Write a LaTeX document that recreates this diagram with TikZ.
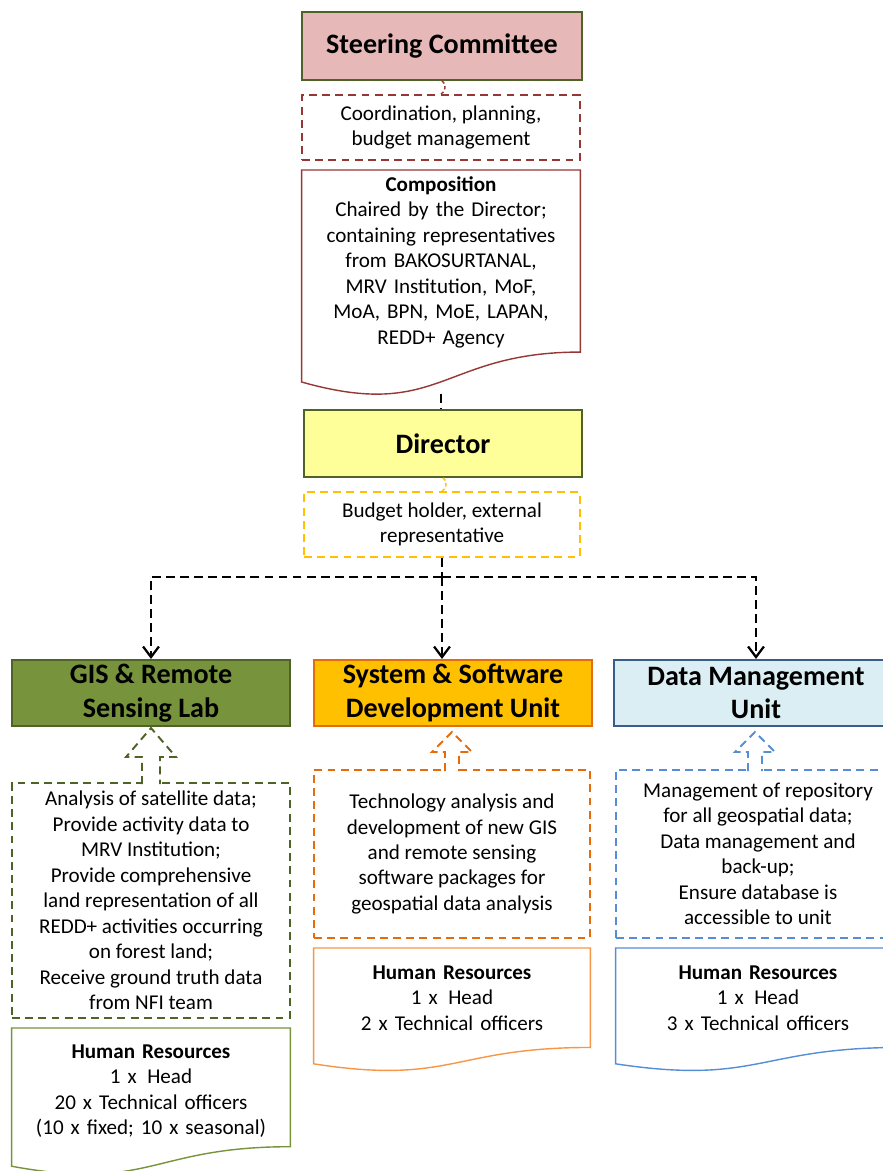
\documentclass[tikz,border=0pt]{standalone}
\usepackage{fontspec}
\setmainfont{Carlito}
\usetikzlibrary{arrows.meta,calc}

\definecolor{scpink}{HTML}{E6B8B7}
\definecolor{boxolive}{HTML}{4F6228}
\definecolor{gisgreen}{HTML}{77933C}
\definecolor{diryellow}{HTML}{FFFF99}
\definecolor{redbrown}{HTML}{953735}
\definecolor{gold}{HTML}{FFC000}
\definecolor{deeporange}{HTML}{E46C0A}
\definecolor{lightorange}{HTML}{F79646}
\definecolor{paleblue}{HTML}{DBEEF4}
\definecolor{navy}{HTML}{385D8A}
\definecolor{midblue}{HTML}{558ED5}

% wavy-bottomed document outline hung from text node #1 (colour #2, height #3 px)
\newcommand{\docoutline}[3]{%
  \draw[#2, line width=0.8pt] (#1.north west) -- (#1.north east)
    -- ($(#1.north east)+(0,0.802*#3)$)
    .. controls ($(#1.north)+(0,0.802*#3)$) and ($(#1.north)+(0,1.1075*#3)$)
    .. ($(#1.north west)+(0,0.934*#3)$) -- cycle;}

% dashed open block arrow pointing up: x, tip, neck, foot, head half, shaft half, colour
\newcommand{\blockup}[7]{%
  \fill[white] (#1-#6,#4) -- (#1-#6,#3) -- (#1-#5,#3) -- (#1,#2)
    -- (#1+#5,#3) -- (#1+#6,#3) -- (#1+#6,#4) -- cycle;
  \draw[#7, roledash] (#1-#6,#4) -- (#1-#6,#3) -- (#1-#5,#3) -- (#1,#2)
    -- (#1+#5,#3) -- (#1+#6,#3) -- (#1+#6,#4);}

\begin{document}
\begin{tikzpicture}[x=0.02cm, y=-0.02cm,
    head/.style={draw=boxolive, line width=0.9pt, align=center, inner sep=2pt,
      minimum height=1.33cm, font=\fontsize{16}{19.3}\selectfont\bfseries},
    roledash/.style={dash pattern=on 4.5pt off 3pt, line width=1.1pt},
    role/.style={roledash, align=center, inner sep=2pt,
      font=\fontsize{12}{14.5}\selectfont},
    doc/.style={anchor=north, align=center, inner xsep=0pt,
      font=\fontsize{12}{14.5}\selectfont},
    link/.style={line width=1.4pt, dash pattern=on 5pt off 3pt},
    tip/.style={-{Straight Barb[length=6pt,width=9pt,line width=1.3pt]}}]
  \useasboundingbox (0,0) rectangle (883,1171);
  \clip (0,0) rectangle (883,1171);

  % top of the structure
  \node[head, fill=scpink, minimum width=5.6cm, minimum height=1.36cm] (sc) at (442,46) {Steering Committee};
  \node[role, draw=redbrown, minimum width=5.56cm, minimum height=1.3cm] (coord) at (441,127.5)
    {Coordination, planning,\\budget management};
  \node[doc, text width=5.56cm, inner ysep=3.6pt] (comp) at (441,170)
    {\textbf{Composition}\\Chaired by the Director;\\containing representatives\\from  BAKOSURTANAL,\\MRV Institution,  MoF,\\MoA, BPN, MoE, LAPAN,\\REDD+ Agency};
  \docoutline{comp}{redbrown}{227}

  \node[head, fill=diryellow, minimum width=5.56cm, minimum height=1.34cm] (dir) at (443,443.5) {Director};
  \node[role, draw=gold, minimum width=5.52cm, minimum height=1.3cm] (budget) at (442,524.5)
    {Budget holder, external\\representative};

  % the three units
  \node[head, fill=gisgreen, minimum width=5.56cm] (gis) at (151,693) {GIS \& Remote\\Sensing Lab};
  \node[head, fill=gold, draw=deeporange, minimum width=5.56cm] (sys) at (453,693) {System \& Software\\Development Unit};
  \node[head, fill=paleblue, draw=navy, minimum width=5.68cm] (data) at (756,693) {Data Management\\Unit};

  \node[role, draw=boxolive, minimum width=5.56cm, minimum height=4.7cm] (gisrole) at (151,900.5)
    {Analysis of satellite  data;\\Provide activity data to\\MRV Institution;\\Provide comprehensive\\land representation  of all\\REDD+ activities occurring\\on forest land;\\Receive ground truth data\\from NFI team};
  \node[role, draw=deeporange, minimum width=5.52cm, minimum height=3.36cm] (sysrole) at (452,854)
    {Technology analysis and\\development of new GIS\\and remote sensing\\software packages for\\geospatial data analysis};
  \node[role, draw=midblue, minimum width=5.68cm, minimum height=3.36cm] (datarole) at (758,854)
    {Management of repository\\for all geospatial data;\\Data management and\\back-up;\\Ensure database is\\accessible to unit};

  \node[doc, text width=5.56cm, inner ysep=9.2pt] (gishr) at (151,1028)
    {\textbf{Human Resources}\\1 x\, Head\\20 x Technical officers\\(10 x fixed; 10 x seasonal)};
  \docoutline{gishr}{gisgreen}{148}
  \node[doc, text width=5.52cm, inner ysep=9.7pt] (syshr) at (452,948)
    {\textbf{Human Resources}\\1 x\, Head\\2 x Technical officers};
  \docoutline{syshr}{lightorange}{124}
  \node[doc, text width=5.68cm, inner ysep=9.7pt] (datahr) at (758,948)
    {\textbf{Human Resources}\\1 x\, Head\\3 x Technical officers};
  \docoutline{datahr}{midblue}{124}

  % block arrows from the duties up to each unit
  \blockup{151}{728}{757}{784}{25}{9}{boxolive}
  \blockup{452}{732}{752}{771}{20}{7}{deeporange}
  \blockup{755}{732}{752}{771}{20}{7}{midblue}

  % connectors
  \draw[redbrown, line width=0.8pt, dash pattern=on 2pt off 1.5pt] (sc.south) to[out=-30, in=20] (coord.north);
  \draw[gold, line width=0.8pt, dash pattern=on 2pt off 1.5pt] (dir.south) to[out=-30, in=20] (budget.north);
  \coordinate (docfoot) at (441,394);
  \draw[link] (docfoot) -- (docfoot |- dir.north);
  \coordinate (split) at ($(budget.south)+(0,19)$);
  \draw[link] (budget.south) -- (split);
  \draw[link, tip] (split) -| (gis.north);
  \draw[link, tip] (split) -- (split |- sys.north);
  \draw[link, tip] (split) -| (data.north);
\end{tikzpicture}
\end{document}
